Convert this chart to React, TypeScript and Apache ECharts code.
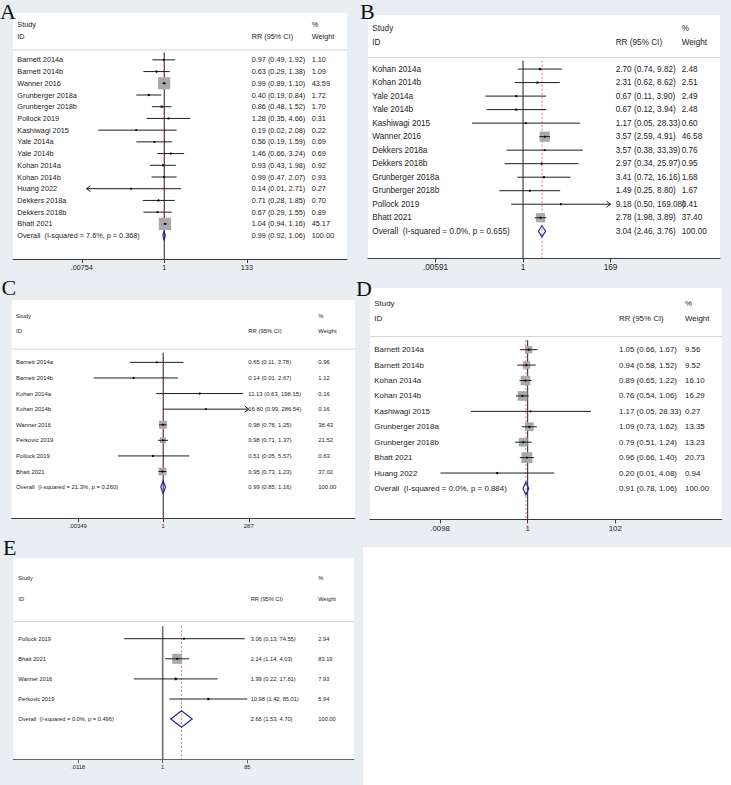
import React, { useEffect, useRef } from "react";
import * as echarts from "echarts";

// ---------- A ----------
const studiesA = ["Barnett 2014a", "Barnett 2014b", "Wanner 2016", "Grunberger 2018a", "Grunberger 2018b", "Pollock 2019", "Kashiwagi 2015", "Yale 2014a", "Yale 2014b", "Kohan 2014a", "Kohan 2014b", "Huang 2022", "Dekkers 2018a", "Dekkers 2018b", "Bhatt 2021"];
const rrA = [0.97, 0.63, 0.99, 0.40, 0.86, 1.28, 0.19, 0.56, 1.46, 0.93, 0.99, 0.14, 0.71, 0.67, 1.04];
const lowA = [0.49, 0.29, 0.89, 0.19, 0.48, 0.35, 0.02, 0.19, 0.66, 0.43, 0.47, 0.01, 0.28, 0.29, 0.94];
const highA = [1.92, 1.38, 1.10, 0.84, 1.52, 4.66, 2.08, 1.59, 3.24, 1.98, 2.07, 2.71, 1.85, 1.55, 1.16];
const weightA = [1.10, 1.09, 43.59, 1.72, 1.70, 0.31, 0.22, 0.69, 0.69, 0.92, 0.93, 0.27, 0.70, 0.89, 45.17];
const overallA = [0.99, 0.92, 1.06];
const hetA = "I-squared = 7.6%, p = 0.368";
const ticksA = [0.00754, 1, 133];
const tickLabelsA = [".00754", "1", "133"];
const arrowsA: [number, string][] = [[11, "lo"]];

// ---------- B ----------
const studiesB = ["Kohan 2014a", "Kohan 2014b", "Yale 2014a", "Yale 2014b", "Kashiwagi 2015", "Wanner 2016", "Dekkers 2018a", "Dekkers 2018b", "Grunberger 2018a", "Grunberger 2018b", "Pollock 2019", "Bhatt 2021"];
const rrB = [2.70, 2.31, 0.67, 0.67, 1.17, 3.57, 3.57, 2.97, 3.41, 1.49, 9.18, 2.78];
const lowB = [0.74, 0.62, 0.11, 0.12, 0.05, 2.59, 0.38, 0.34, 0.72, 0.25, 0.50, 1.98];
const highB = [9.82, 8.62, 3.90, 3.94, 28.33, 4.91, 33.39, 25.97, 16.16, 8.80, 169.08, 3.89];
const weightB = [2.48, 2.51, 2.49, 2.48, 0.60, 46.58, 0.76, 0.95, 1.68, 1.67, 0.41, 37.40];
const overallB = [3.04, 2.46, 3.76];
const hetB = "I-squared = 0.0%, p = 0.655";
const ticksB = [0.00591, 1, 169];
const tickLabelsB = [".00591", "1", "169"];
const arrowsB: [number, string][] = [[10, "hi"]];

// ---------- C ----------
const studiesC = ["Barnett 2014a", "Barnett 2014b", "Kohan 2014a", "Kohan 2014b", "Wanner 2016", "Perkovic 2019", "Pollock 2019", "Bhatt 2021"];
const rrC = [0.65, 0.14, 11.13, 16.80, 0.98, 0.98, 0.51, 0.95];
const lowC = [0.11, 0.01, 0.63, 0.99, 0.76, 0.71, 0.05, 0.73];
const highC = [3.78, 2.67, 198.15, 286.54, 1.25, 1.37, 5.57, 1.23];
const weightC = [0.96, 1.12, 0.16, 0.16, 38.43, 21.52, 0.63, 37.02];
const overallC = [0.99, 0.85, 1.16];
const hetC = "I-squared = 21.3%, p = 0.260";
const ticksC = [0.00349, 1, 287];
const tickLabelsC = [".00349", "1", "287"];
const arrowsC: [number, string][] = [[3, "hi"]];

// ---------- D ----------
const studiesD = ["Barnett 2014a", "Barnett 2014b", "Kohan 2014a", "Kohan 2014b", "Kashiwagi 2015", "Grunberger 2018a", "Grunberger 2018b", "Bhatt 2021", "Huang 2022"];
const rrD = [1.05, 0.94, 0.89, 0.76, 1.17, 1.09, 0.79, 0.96, 0.20];
const lowD = [0.66, 0.58, 0.65, 0.54, 0.05, 0.73, 0.51, 0.66, 0.01];
const highD = [1.67, 1.52, 1.22, 1.06, 28.33, 1.62, 1.24, 1.40, 4.08];
const weightD = [9.56, 9.52, 16.10, 16.29, 0.27, 13.35, 13.23, 20.73, 0.94];
const overallD = [0.91, 0.78, 1.06];
const hetD = "I-squared = 0.0%, p = 0.884";
const ticksD = [0.0098, 1, 102];
const tickLabelsD = [".0098", "1", "102"];
const arrowsD: [number, string][] = [];

// ---------- E ----------
const studiesE = ["Pollock 2019", "Bhatt 2021", "Wanner 2016", "Perkovic 2019"];
const rrE = [3.06, 2.14, 1.99, 10.98];
const lowE = [0.13, 1.14, 0.22, 1.42];
const highE = [74.55, 4.03, 17.81, 85.01];
const weightE = [2.94, 83.19, 7.93, 5.94];
const overallE = [2.68, 1.53, 4.70];
const hetE = "I-squared = 0.0%, p = 0.496";
const ticksE = [0.0118, 1, 85];
const tickLabelsE = [".0118", "1", "85"];
const arrowsE: [number, string][] = [];

const OVERALL_WEIGHT = 100;

const FONT = '"Liberation Sans", Arial, Helvetica, sans-serif';
const SERIF = '"Liberation Serif", "Times New Roman", serif';
const PANEL_BG = "#e8eef1";
const BOX = "#a9a9a9";
const INK = "#1e1e1e";
const DIAMOND = "#25259c";
const OVERALL_LINE = "#e0525c";

type Panel = {
  letter: string;
  studies: string[];
  rr: number[];
  low: number[];
  high: number[];
  weight: number[];
  overall: number[];
  het: string;
  ticks: number[];
  tickLabels: string[];
  arrows: [number, string][];
  letterPos: [number, number];
  bg: [number, number, number, number];
  grid: [number, number, number, number];
  xRange: [number, number];
  cols: [number, number, number];
  font: number;
  boxK: number;
  nullColor: string;
  nullWidth: number;
};

const panels: Panel[] = [
  {
    letter: "A", studies: studiesA, rr: rrA, low: lowA, high: highA, weight: weightA,
    overall: overallA, het: hetA, ticks: ticksA, tickLabels: tickLabelsA, arrows: arrowsA,
    letterPos: [0, 11], bg: [0, 0, 360, 282], grid: [13, 13, 334, 246],
    xRange: [-8.96, 10.82], cols: [4.3, 238.7, 298.7], font: 7.3, boxK: 1.84,
    nullColor: INK, nullWidth: 1,
  },
  {
    letter: "B", studies: studiesB, rr: rrB, low: lowB, high: highB, weight: weightB,
    overall: overallB, het: hetB, ticks: ticksB, tickLabels: tickLabelsB, arrows: arrowsB,
    letterPos: [360, 11], bg: [360, 0, 371, 284], grid: [368, 15, 352, 243.3],
    xRange: [-9.09, 11.55], cols: [4.3, 247.7, 313.7], font: 8.2, boxK: 1.5,
    nullColor: INK, nullWidth: 1,
  },
  {
    letter: "C", studies: studiesC, rr: rrC, low: lowC, high: highC, weight: weightC,
    overall: overallC, het: hetC, ticks: ticksC, tickLabels: tickLabelsC, arrows: arrowsC,
    letterPos: [1.5, 287], bg: [0, 280, 360, 258], grid: [11.7, 300, 343.3, 218.3],
    xRange: [-10.03, 12.69], cols: [4.3, 236.6, 306.6], font: 5.9, boxK: 1.29,
    nullColor: INK, nullWidth: 1,
  },
  {
    letter: "D", studies: studiesD, rr: rrD, low: lowD, high: highD, weight: weightD,
    overall: overallD, het: hetD, ticks: ticksD, tickLabels: tickLabelsD, arrows: arrowsD,
    letterPos: [356, 288], bg: [360, 284, 371, 263], grid: [370, 288, 351.7, 231.3],
    xRange: [-8.33, 10.25], cols: [4.3, 249, 315], font: 7.9, boxK: 2.4,
    nullColor: INK, nullWidth: 1,
  },
  {
    letter: "E", studies: studiesE, rr: rrE, low: lowE, high: highE, weight: weightE,
    overall: overallE, het: hetE, ticks: ticksE, tickLabels: tickLabelsE, arrows: arrowsE,
    letterPos: [3, 547.5], bg: [0, 538, 363, 247], grid: [13.3, 558.3, 340.7, 201],
    xRange: [-7.84, 10.04], cols: [5, 237.4, 305], font: 5.7, boxK: 1.1,
    nullColor: "#6f6f6f", nullWidth: 1.6,
  },
];

function txt(x: number, y: number, s: string, size: number, color = "#222") {
  return {
    type: "text",
    x,
    y,
    silent: true,
    style: {
      text: s,
      fill: color,
      fontSize: size,
      fontFamily: FONT,
      textAlign: "left",
      textVerticalAlign: "middle",
      align: "left",
      verticalAlign: "middle",
    },
  };
}

const fmt = (v: number) => v.toFixed(2);
const ciText = (r: number, l: number, h: number) => `${fmt(r)} (${fmt(l)}, ${fmt(h)})`;

function buildOption() {
  const grid: any[] = [];
  const xAxis: any[] = [];
  const yAxis: any[] = [];
  const series: any[] = [];
  const graphic: any[] = [];

  panels.forEach((p, k) => {
    const n = p.studies.length;
    const [gl, gt, gw, gh] = p.grid;
    const lnTicks = p.ticks.map((t) => Math.log(t));
    const tMin = p.ticks[0];
    const tMax = p.ticks[p.ticks.length - 1];

    graphic.push({
      type: "rect", z: -20, silent: true,
      shape: { x: p.bg[0], y: p.bg[1], width: p.bg[2], height: p.bg[3] },
      style: { fill: PANEL_BG },
    });
    graphic.push({
      type: "rect", z: -10, silent: true,
      shape: { x: gl, y: gt, width: gw, height: gh },
      style: { fill: "#ffffff" },
    });
    graphic.push({
      type: "text", z: 10, silent: true,
      x: p.letterPos[0], y: p.letterPos[1],
      style: {
        text: p.letter, fill: "#111", fontSize: 22, fontFamily: SERIF,
        textAlign: "left", textVerticalAlign: "middle", align: "left", verticalAlign: "middle",
      },
    });

    grid.push({ left: gl, top: gt, width: gw, height: gh, containLabel: false, outerBoundsMode: "none", show: false });

    xAxis.push({
      type: "value",
      gridIndex: k,
      min: p.xRange[0],
      max: p.xRange[1],
      axisLine: { show: true, onZero: false, lineStyle: { color: k === 4 ? "#666" : "#3a3a3a", width: 1 } },
      axisTick: { show: true, inside: false, length: 4, customValues: lnTicks, lineStyle: { color: k === 4 ? "#666" : "#3a3a3a" } },
      axisLabel: {
        show: true,
        customValues: lnTicks,
        margin: 5,
        fontSize: p.font,
        fontFamily: FONT,
        color: "#222",
        formatter: (v: number) => {
          let best = 0;
          lnTicks.forEach((t, i) => {
            if (Math.abs(t - v) < Math.abs(lnTicks[best] - v)) best = i;
          });
          return p.tickLabels[best];
        },
      },
      splitLine: { show: false },
    });

    yAxis.push({ type: "value", gridIndex: k, inverse: true, min: -4, max: n + 2, show: false });

    // headers, separator, null line and the pooled-estimate line
    series.push({
      type: "custom",
      name: `header-${p.letter}`,
      xAxisIndex: k,
      yAxisIndex: k,
      z: 1,
      silent: true,
      data: [[0, -3]],
      renderItem: (params: any, api: any) => {
        const cs = params.coordSys;
        const yOf = (r: number) => api.coord([0, r])[1];
        const x0 = api.coord([0, 0])[0];
        const xo = api.coord([Math.log(p.overall[0]), 0])[0];
        const yTop = yOf(-0.62);
        const yBot = cs.y + cs.height;
        const ySep = yOf(-0.85);
        return {
          type: "group",
          children: [
            { type: "line", shape: { x1: cs.x, y1: ySep, x2: cs.x + cs.width, y2: ySep }, style: { stroke: "#d4d4d4", lineWidth: 1 } },
            { type: "line", shape: { x1: x0, y1: yTop, x2: x0, y2: yBot }, style: { stroke: p.nullColor, lineWidth: p.nullWidth } },
            { type: "line", shape: { x1: xo, y1: yTop, x2: xo, y2: yBot }, style: { stroke: OVERALL_LINE, lineWidth: 0.8, lineDash: [2, 2] } },
            txt(cs.x + p.cols[0], yOf(-3), "Study", p.font),
            txt(cs.x + p.cols[0], yOf(-2), "ID", p.font),
            txt(cs.x + p.cols[1], yOf(-2), "RR (95% CI)", p.font),
            txt(cs.x + p.cols[2], yOf(-3), "%", p.font),
            txt(cs.x + p.cols[2], yOf(-2), "Weight", p.font),
          ],
        };
      },
    });

    // study rows and the pooled diamond
    const rowData = p.studies.map((_, i) => [Math.log(p.rr[i]), i]);
    rowData.push([Math.log(p.overall[0]), n]);
    series.push({
      type: "custom",
      name: `rows-${p.letter}`,
      xAxisIndex: k,
      yAxisIndex: k,
      z: 3,
      silent: true,
      data: rowData,
      encode: { x: 0, y: 1 },
      renderItem: (params: any, api: any) => {
        const i = params.dataIndex;
        const cs = params.coordSys;
        const y = api.coord([0, i])[1];
        const rowH = Math.abs(api.coord([0, 1])[1] - api.coord([0, 0])[1]);
        const children: any[] = [];
        if (i < n) {
          const rr = p.rr[i];
          const lo = p.low[i];
          const hi = p.high[i];
          const w = p.weight[i];
          const xlo = api.coord([Math.log(Math.max(lo, tMin)), i])[0];
          const xhi = api.coord([Math.log(Math.min(hi, tMax)), i])[0];
          const xc = api.coord([Math.log(rr), i])[0];
          const side = p.boxK * Math.sqrt(w);
          children.push({ type: "rect", shape: { x: xc - side / 2, y: y - side / 2, width: side, height: side }, style: { fill: BOX } });
          children.push({ type: "line", shape: { x1: xlo, y1: y, x2: xhi, y2: y }, style: { stroke: INK, lineWidth: 1 } });
          p.arrows.forEach(([row, side2]) => {
            if (row !== i) return;
            const ax = side2 === "lo" ? xlo : xhi;
            const d = side2 === "lo" ? 4 : -4;
            children.push({
              type: "polyline",
              shape: { points: [[ax + d, y - 3], [ax, y], [ax + d, y + 3]] },
              style: { stroke: INK, lineWidth: 1, fill: "none" },
            });
          });
          children.push({ type: "circle", shape: { cx: xc, cy: y, r: 1.1 }, style: { fill: "#000" } });
          children.push(txt(cs.x + p.cols[0], y, p.studies[i], p.font));
          children.push(txt(cs.x + p.cols[1], y, ciText(rr, lo, hi), p.font));
          children.push(txt(cs.x + p.cols[2], y, fmt(w), p.font));
        } else {
          const [orr, olo, ohi] = p.overall;
          const xlo = api.coord([Math.log(olo), i])[0];
          const xhi = api.coord([Math.log(ohi), i])[0];
          const xc = api.coord([Math.log(orr), i])[0];
          const h = rowH * 0.82;
          children.push({
            type: "polygon",
            shape: { points: [[xlo, y], [xc, y - h / 2], [xhi, y], [xc, y + h / 2]] },
            style: { fill: "rgba(0,0,0,0)", stroke: DIAMOND, lineWidth: 1.2 },
          });
          children.push(txt(cs.x + p.cols[0], y, `Overall\u00a0 (${p.het})`, p.font));
          children.push(txt(cs.x + p.cols[1], y, ciText(orr, olo, ohi), p.font));
          children.push(txt(cs.x + p.cols[2], y, fmt(OVERALL_WEIGHT), p.font));
        }
        return { type: "group", children };
      },
    });
  });

  return {
    animation: false,
    backgroundColor: "#ffffff",
    grid,
    xAxis,
    yAxis,
    series,
    graphic: { elements: graphic },
  };
}

export default function App() {
  const ref = useRef<HTMLDivElement>(null);
  useEffect(() => {
    if (!ref.current) return;
    const chart = echarts.init(ref.current, undefined, { renderer: "svg" });
    chart.setOption(buildOption() as any);
    return () => chart.dispose();
  }, []);
  return (
    <div
      ref={ref}
      style={{ position: "absolute", left: 0, top: 0, width: 731, height: 785 }}
    />
  );
}
